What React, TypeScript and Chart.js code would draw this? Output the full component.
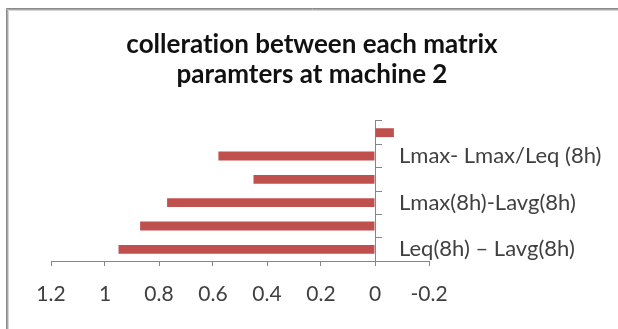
import React, { useEffect, useRef } from "react";
import { Chart, registerables } from "chart.js";

Chart.register(...registerables);

// Category labels, top to bottom (only every other one is printed on the axis)
const categories = [
  "",
  "Lmax- Lmax/Leq (8h)",
  "",
  "Lmax(8h)-Lavg(8h)",
  "",
  "Leq(8h) \u2013 Lavg(8h)",
];

// Correlation values, top to bottom
const correlations = [-0.07, 0.58, 0.45, 0.77, 0.87, 0.95];

// Value-axis ticks (axis runs from 1.2 on the left to -0.2 on the right)
const xTicks = [1.2, 1, 0.8, 0.6, 0.4, 0.2, 0, -0.2];

const titleLines = ["colleration between each matrix", "paramters at machine 2"];

const AXIS_GREY = "#868686";
const LABEL_FONT = "Lato";

// Grey chart frame along the top and left edges
const framePlugin = {
  id: "chartFrame",
  beforeDraw(chart: any) {
    const { ctx, width, height } = chart;
    ctx.save();
    ctx.lineWidth = 1;
    ctx.strokeStyle = "#8a8a8a";
    ctx.beginPath();
    ctx.moveTo(6.5, height);
    ctx.lineTo(6.5, 8.5);
    ctx.lineTo(width, 8.5);
    ctx.stroke();
    ctx.strokeStyle = "#a8a8a8";
    ctx.beginPath();
    ctx.moveTo(7.5, height);
    ctx.lineTo(7.5, 9.5);
    ctx.lineTo(width, 9.5);
    ctx.stroke();
    ctx.strokeStyle = "#d6d6d6";
    ctx.beginPath();
    ctx.moveTo(8.5, height);
    ctx.lineTo(8.5, 10.5);
    ctx.lineTo(width, 10.5);
    ctx.stroke();
    ctx.restore();
  },
};

// Two-line title centred over the frame, plus the category names
// written just right of the zero line
const textPlugin = {
  id: "chartText",
  afterDraw(chart: any) {
    const { ctx, scales } = chart;
    const xs = scales.x;
    const ys = scales.y;
    ctx.save();
    (ctx as any).textRendering = "optimizeSpeed";

    ctx.font = `bold 26px ${LABEL_FONT}`;
    ctx.fillStyle = "#111111";
    ctx.textAlign = "center";
    ctx.textBaseline = "alphabetic";
    titleLines.forEach((line, i) => {
      ctx.fillText(line, 312, 53 + i * 30);
    });

    const x0 = xs.getPixelForValue(0) + 24;
    ctx.font = `22px ${LABEL_FONT}`;
    ctx.fillStyle = "#404040";
    ctx.textAlign = "left";
    ctx.textBaseline = "middle";
    categories.forEach((label, i) => {
      if (label) ctx.fillText(label, x0, ys.getPixelForValue(i));
    });
    ctx.restore();
  },
};

export default function App() {
  const canvasRef = useRef<HTMLCanvasElement | null>(null);

  useEffect(() => {
    document.body.style.margin = "0";
    document.body.style.overflow = "hidden";
    if (!canvasRef.current) return;
    const chart = new Chart(canvasRef.current, {
      type: "bar",
      data: {
        labels: categories,
        datasets: [
          {
            data: correlations,
            backgroundColor: "#C0504D",
            borderWidth: 0,
            barPercentage: 0.38,
            categoryPercentage: 1,
          },
        ],
      },
      plugins: [framePlugin, textPlugin],
      options: {
        indexAxis: "y",
        animation: false,
        responsive: true,
        maintainAspectRatio: false,
        layout: { padding: { left: 51, right: 189, top: 121, bottom: 18 } },
        plugins: {
          legend: { display: false },
          tooltip: { enabled: false },
          title: { display: false },
        },
        scales: {
          x: {
            type: "linear",
            min: -0.2,
            max: 1.2,
            reverse: true,
            afterBuildTicks: (scale: any) => {
              scale.ticks = xTicks.map((v) => ({ value: v }));
            },
            afterFit: (scale: any) => {
              scale.height = 50;
            },
            grid: {
              drawOnChartArea: false,
              drawTicks: true,
              tickLength: 5,
              color: AXIS_GREY,
            },
            border: { display: true, color: AXIS_GREY, width: 1 },
            ticks: {
              padding: 16,
              color: "#404040",
              font: { family: LABEL_FONT, size: 21 },
              callback: (v: any) => String(Math.round(Number(v) * 10) / 10),
            },
          },
          y: {
            type: "category",
            position: { x: 0 } as any,
            offset: true,
            afterFit: (scale: any) => {
              scale.width = 0;
            },
            grid: {
              offset: true,
              drawOnChartArea: false,
              drawTicks: true,
              tickLength: -7,
              color: AXIS_GREY,
            },
            border: { display: true, color: AXIS_GREY, width: 1 },
            ticks: { display: false },
          },
        },
      },
    });
    return () => chart.destroy();
  }, []);

  return (
    <div
      style={{
        position: "fixed",
        left: 0,
        top: 0,
        width: 618,
        height: 329,
        overflow: "hidden",
        background: "#ffffff",
      }}
    >
      <canvas ref={canvasRef} />
    </div>
  );
}
